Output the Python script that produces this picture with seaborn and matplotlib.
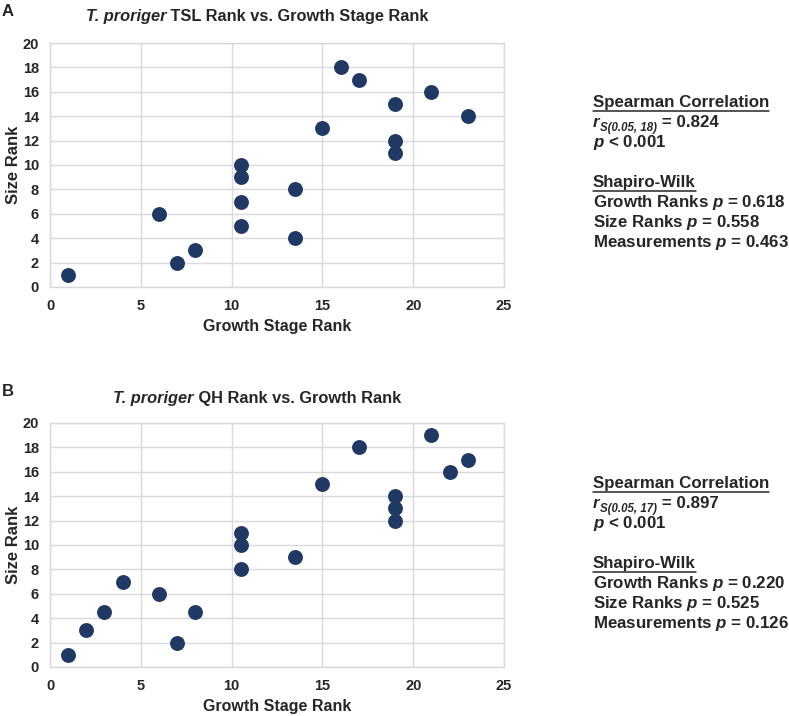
import pandas as pd
import matplotlib.pyplot as plt
import seaborn as sns

# Panel A: TSL rank vs growth stage rank
growth_a = [1, 6, 7, 8, 10.5, 10.5, 10.5, 10.5, 13.5, 13.5, 15, 16, 17, 19, 19, 19, 21, 23]
size_a = [1, 6, 2, 3, 10, 9, 7, 5, 8, 4, 13, 18, 17, 15, 12, 11, 16, 14]

# Panel B: QH rank vs growth rank
growth_b = [1, 2, 3, 4, 6, 7, 8, 10.5, 10.5, 10.5, 13.5, 15, 17, 19, 19, 19, 21, 22, 23]
size_b = [1, 3, 4.5, 7, 6, 2, 4.5, 11, 10, 8, 9, 15, 18, 14, 13, 12, 19, 16, 17]

titles = [("T. proriger", " TSL Rank vs. Growth Stage Rank"),
          ("T. proriger", " QH Rank vs. Growth Rank")]
panel_letters = ["A", "B"]
# (subscript, value) for the Spearman line, then the remaining lines
spearman_a = ("S(0.05, 18)", " = 0.824")
spearman_b = ("S(0.05, 17)", " = 0.897")
stats_a = [r"$p$ < 0.001", r"Growth Ranks $p$ = 0.618", r"Size Ranks $p$ = 0.558",
           r"Measurements $p$ = 0.463"]
stats_b = [r"$p$ < 0.001", r"Growth Ranks $p$ = 0.220", r"Size Ranks $p$ = 0.525",
           r"Measurements $p$ = 0.126"]

sns.set_theme(style="whitegrid")
plt.rcParams['font.family'] = ['Liberation Sans', 'DejaVu Sans']
plt.rcParams['font.weight'] = 'bold'
plt.rcParams['mathtext.fontset'] = 'custom'
plt.rcParams['mathtext.it'] = 'Liberation Sans:italic:bold'
plt.rcParams['mathtext.rm'] = 'Liberation Sans:bold'
plt.rcParams['mathtext.bf'] = 'Liberation Sans:bold'

W, H = 789, 716
fig = plt.figure(figsize=(W / 100, H / 100), dpi=100)
renderer = fig.canvas.get_renderer()
navy = "#1f3864"
dark = "#262626"
FS = 12.2


def px(x, y):
    return x / W, 1 - y / H


def underline(x0, x1, y):
    fig.add_artist(plt.Line2D([x0 / W, x1 / W], [1 - y / H, 1 - y / H],
                              color=dark, lw=1.1, transform=fig.transFigure))


def put(x, y, s, **kw):
    t = fig.text(*px(x, y), s, fontsize=kw.pop("fontsize", FS), fontweight="bold",
                 va="baseline", color=dark, **kw)
    return t, t.get_window_extent(renderer).width


panels = [(growth_a, size_a, 43, spearman_a, stats_a, 107),
          (growth_b, size_b, 423, spearman_b, stats_b, 488)]
for i, (gx, sy, top, spear, stats, ty) in enumerate(panels):
    ax = fig.add_axes([50 / W, 1 - (top + 244) / H, 454 / W, 244 / H])
    df = pd.DataFrame({"growth": gx, "size": sy})
    sns.scatterplot(data=df, x="growth", y="size", ax=ax, s=115, color=navy,
                    edgecolor=navy, linewidth=0, zorder=3)
    ax.set_xlim(0, 25)
    ax.set_ylim(0, 20)
    ax.set_xticks(range(0, 26, 5))
    ax.set_yticks(range(0, 21, 2))
    ax.grid(color="#d9d9d9", linewidth=1)
    for s in ax.spines.values():
        s.set_color("#d9d9d9")
        s.set_linewidth(1)
    ax.tick_params(labelsize=10.5, colors=dark, length=0)
    ax.tick_params(axis="y", pad=8)
    ax.tick_params(axis="x", pad=9)
    for lab in ax.get_xticklabels() + ax.get_yticklabels():
        lab.set_fontweight("bold")
    ax.set_xlabel("Growth Stage Rank", fontsize=11.5, fontweight="bold", color=dark, va="center")
    ax.set_ylabel("Size Rank", fontsize=12, fontweight="bold", color=dark, va="center")
    ax.xaxis.set_label_coords(0.5, -(327 - 287) / 244)
    ax.yaxis.set_label_coords(-(50 - 13) / 454, 0.5)

    # panel letter and title
    fig.text(*px(2, top - 31), panel_letters[i], fontsize=12, fontweight="bold",
             va="center", color=dark)
    ital, rest = titles[i]
    t1 = fig.text(0, 0, ital, fontsize=11.8, fontstyle="italic", fontweight="bold", color=dark)
    t2 = fig.text(0, 0, rest, fontsize=11.8, fontweight="bold", color=dark)
    w1 = t1.get_window_extent(renderer).width
    w2 = t2.get_window_extent(renderer).width
    x0 = 257 - (w1 + w2) / 2
    tyy = top - 27 if i == 0 else top - 25
    t1.set_position(px(x0, tyy))
    t1.set_va("center")
    t2.set_position(px(x0 + w1, tyy))
    t2.set_va("center")

    # statistics block (y values are baselines)
    h1, wh = put(593, ty, "Spearman Correlation")
    underline(593, 593 + wh, ty + 4)
    y = ty + 20
    _, wr = put(593, y, "r", fontstyle="italic")
    _, ws = put(593 + wr, y + 4, spear[0], fontstyle="italic", fontsize=FS * 0.68)
    put(593 + wr + ws, y, spear[1])
    y += 20
    put(593, y, stats[0])
    y += 40
    h2, wh = put(593, y, "Shapiro-Wilk")
    underline(593, 593 + wh, y + 4)
    for line in stats[1:]:
        y += 20
        put(593, y, line)

fig.savefig("out.png", dpi=100)
